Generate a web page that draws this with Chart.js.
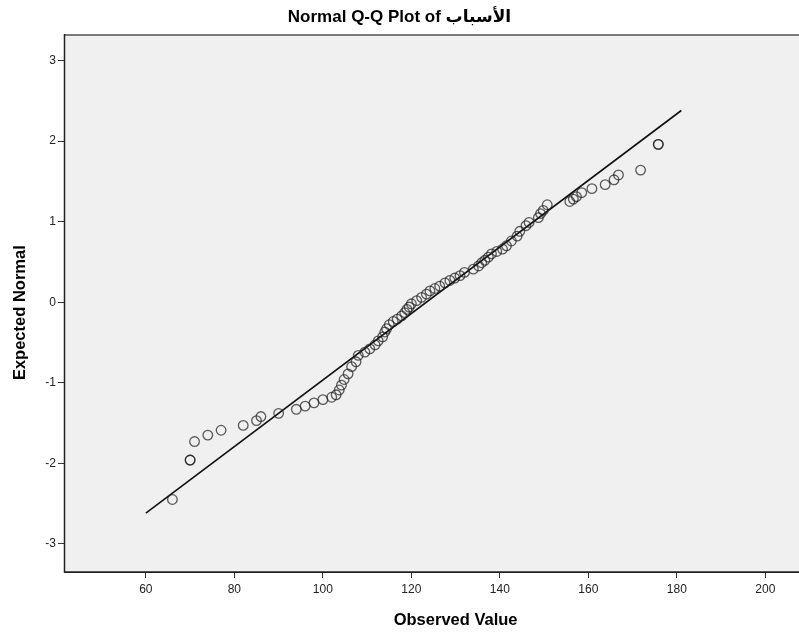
<!DOCTYPE html>
<html>
<head>
<meta charset="utf-8">
<script src="https://cdn.jsdelivr.net/npm/chart.js@4.4.1/dist/chart.umd.min.js"></script>
<style>
  html, body { margin: 0; padding: 0; background: #ffffff; }
  #wrap { width: 799px; height: 632px; position: relative; }
</style>
</head>
<body>
<div id="wrap"><canvas id="c" width="799" height="632"></canvas></div>
<script>
// ---- Data ----
const chartTitle = "Normal Q-Q Plot of الأسباب";
const xAxisTitle = "Observed Value";
const yAxisTitle = "Expected Normal";

const observedValues = [
  66, 70, 70, 71, 74, 77, 82, 85, 86, 90,
  94, 96, 98, 100, 102, 103, 103.7, 104.2, 104.8, 105.7,
  106.5, 107.5, 108, 109.5, 110.6, 111.8, 112.5, 113.5, 114, 114.4,
  115, 115.9, 116.8, 117.8, 118.5, 119, 119.5, 120, 121.2, 122.3,
  123.4, 124.2, 125.3, 126.4, 127.6, 128.7, 129.8, 131, 132, 134,
  135.2, 135.9, 136.6, 137.4, 138.1, 139.3, 140.6, 141.5, 142.6, 143.9,
  144.5, 145.9, 146.6, 148.7, 149.2, 149.8, 150.7, 155.8, 156.6, 157.3,
  158.5, 160.8, 163.8, 165.8, 166.8, 171.8, 175.8, 175.8
];
const expectedNormal = [
  -2.45, -1.96, -1.96, -1.73, -1.65, -1.59, -1.53, -1.47, -1.42, -1.38,
  -1.33, -1.29, -1.25, -1.21, -1.18, -1.15, -1.09, -1.03, -0.96, -0.89,
  -0.80, -0.74, -0.66, -0.62, -0.58, -0.53, -0.48, -0.43, -0.37, -0.33,
  -0.28, -0.24, -0.21, -0.17, -0.13, -0.09, -0.06, -0.02, 0.02, 0.06,
  0.10, 0.14, 0.17, 0.20, 0.24, 0.27, 0.30, 0.33, 0.37, 0.41,
  0.45, 0.49, 0.52, 0.56, 0.60, 0.63, 0.66, 0.70, 0.76, 0.82,
  0.88, 0.95, 0.99, 1.05, 1.10, 1.14, 1.21, 1.25, 1.28, 1.31,
  1.36, 1.41, 1.46, 1.52, 1.58, 1.64, 1.96, 1.96
];

// Reference line (expected normal = (x - mean) / sd)
const refMean = 123.4;
const refSd = 24.2;
const refLineX = [60, 181];
const refLineY = refLineX.map(x => (x - refMean) / refSd);

const xTicks = [60, 80, 100, 120, 140, 160, 180, 200];
const yTicks = [-3, -2, -1, 0, 1, 2, 3];
const xRange = [41.5, 207.6];
const yRange = [-3.35, 3.33];
const xTitleCenterValue = 130;   // x-axis title centred under this value
const yTitleCenterValue = -0.13; // y-axis title centred beside this value

// ---- Build chart ----
const points = observedValues.map((x, i) => ({ x: x, y: expectedNormal[i] }));
const linePts = refLineX.map((x, i) => ({ x: x, y: refLineY[i] }));

const FONT = "'Liberation Sans', Arial, 'DejaVu Sans', sans-serif";

const plotDecor = {
  id: 'plotDecor',
  beforeDatasetsDraw(chart) {
    const { ctx, chartArea: a } = chart;
    ctx.save();
    ctx.fillStyle = '#f0f0f0';
    ctx.fillRect(a.left, a.top, a.right - a.left, a.bottom - a.top);
    ctx.restore();
  },
  afterDraw(chart) {
    const { ctx, chartArea: a } = chart;
    ctx.save();
    ctx.strokeStyle = '#7a7a7a';
    ctx.lineWidth = 2;
    ctx.beginPath();
    ctx.moveTo(a.left, a.top + 1);
    ctx.lineTo(a.right, a.top + 1);
    ctx.stroke();
    ctx.strokeStyle = '#222';
    ctx.lineWidth = 1.5;
    ctx.beginPath();
    ctx.moveTo(a.left + 0.5, a.top);
    ctx.lineTo(a.left + 0.5, a.bottom);
    ctx.lineTo(a.right, a.bottom);
    ctx.stroke();
    // axis titles
    const xs = chart.scales.x, ys = chart.scales.y;
    ctx.fillStyle = '#000';
    ctx.font = "bold 16.5px " + FONT;
    ctx.textAlign = 'center';
    ctx.textBaseline = 'middle';
    ctx.fillText(xAxisTitle, xs.getPixelForValue(xTitleCenterValue), 620);
    ctx.translate(20, ys.getPixelForValue(yTitleCenterValue));
    ctx.rotate(-Math.PI / 2);
    ctx.fillText(yAxisTitle, 0, 0);
    ctx.restore();
  }
};

new Chart(document.getElementById('c'), {
  type: 'scatter',
  data: {
    datasets: [
      {
        label: 'Reference',
        data: linePts,
        showLine: true,
        borderColor: '#111',
        borderWidth: 1.6,
        pointRadius: 0,
        fill: false,
        order: 2
      },
      {
        label: 'Observed',
        data: points,
        pointStyle: 'circle',
        pointRadius: 4.8,
        pointBorderWidth: 1.3,
        borderColor: 'rgba(30,30,30,0.72)',
        backgroundColor: 'rgba(0,0,0,0)',
        order: 1
      }
    ]
  },
  options: {
    responsive: false,
    animation: false,
    devicePixelRatio: 1,
    layout: { autoPadding: false, padding: { left: 0, right: 0, top: 0, bottom: 0 } },
    plugins: {
      legend: { display: false },
      tooltip: { enabled: false },
      title: {
        display: true,
        text: chartTitle,
        color: '#000',
        font: { family: FONT, size: 17, weight: 'bold', lineHeight: 1.2 },
        padding: { top: 7, bottom: 6.6 }
      }
    },
    scales: {
      x: {
        type: 'linear',
        min: xRange[0],
        max: xRange[1],
        afterBuildTicks(scale) { scale.ticks = xTicks.map(v => ({ value: v })); },
        afterFit(scale) { scale.height = 60; scale.paddingLeft = 0; scale.paddingRight = 0; },
        ticks: {
          color: '#222',
          font: { family: FONT, size: 12 },
          padding: 4,
          maxRotation: 0,
          autoSkip: false
        },
        grid: {
          display: true,
          drawOnChartArea: false,
          drawTicks: true,
          tickLength: 6,
          tickColor: '#333',
          tickWidth: 1
        },
        border: { display: true, color: '#222', width: 1 },
        title: { display: false }
      },
      y: {
        type: 'linear',
        min: yRange[0],
        max: yRange[1],
        afterBuildTicks(scale) { scale.ticks = yTicks.map(v => ({ value: v })); },
        afterFit(scale) { scale.width = 64; scale.paddingTop = 0; scale.paddingBottom = 0; },
        ticks: {
          color: '#222',
          font: { family: FONT, size: 12 },
          padding: 2,
          autoSkip: false
        },
        grid: {
          display: true,
          drawOnChartArea: false,
          drawTicks: true,
          tickLength: 6,
          tickColor: '#333',
          tickWidth: 1
        },
        border: { display: true, color: '#222', width: 1 },
        title: { display: false }
      }
    }
  },
  plugins: [plotDecor]
});
</script>
</body>
</html>
